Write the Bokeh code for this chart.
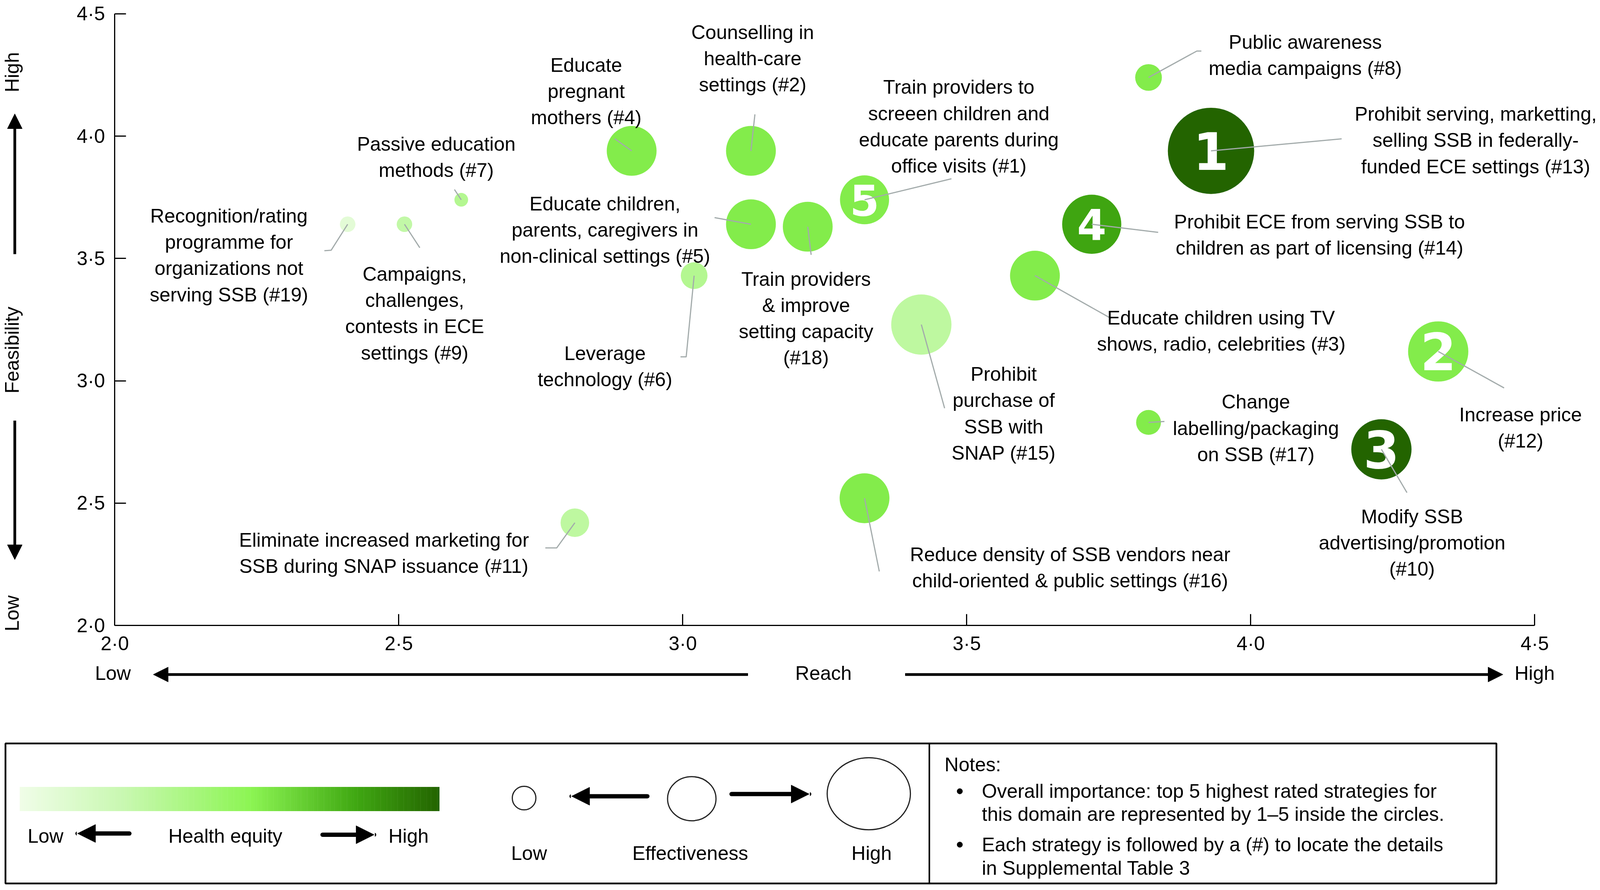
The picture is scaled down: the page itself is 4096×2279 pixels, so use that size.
import math
from bokeh.plotting import figure
from bokeh.models import (Range1d, Arrow, NormalHead, CustomJSTickFormatter,
                          FixedTicker, ColumnDataSource, LinearAxis)
from bokeh.core.properties import value
from bokeh.embed import file_html
from bokeh.resources import INLINE

# ---------------- data ----------------
strategy_ids = [19, 9, 7, 4, 2, 5, 18, 1, 6, 15, 16, 11, 8, 13, 14, 3, 12, 17, 10]
reach = [2.41, 2.51, 2.61, 2.91, 3.12, 3.12, 3.22, 3.32, 3.02, 3.42, 3.32, 2.81,
         3.82, 3.93, 3.72, 3.62, 4.33, 3.82, 4.23]
feasibility = [3.64, 3.64, 3.74, 3.94, 3.94, 3.64, 3.63, 3.74, 3.43, 3.23, 2.52, 2.42,
               4.24, 3.94, 3.64, 3.43, 3.12, 2.83, 2.72]
effectiveness = [2.50, 2.50, 2.45, 3.42, 3.42, 3.42, 3.42, 3.40, 2.80, 3.70, 3.42, 2.85,
                 2.80, 4.40, 3.67, 3.42, 3.70, 2.75, 3.70]
health_equity = [2.16, 2.56, 2.70, 3.16, 3.16, 3.16, 3.16, 3.16, 2.70, 2.60, 3.16, 2.60,
                 3.16, 4.00, 3.62, 3.16, 3.16, 3.16, 4.00]
importance_rank = [0, 0, 0, 0, 0, 0, 0, 5, 0, 0, 0, 0, 0, 1, 4, 0, 2, 0, 3]

label_texts = [
    "Recognition/rating\nprogramme for\norganizations not\nserving SSB (#19)",
    "Campaigns,\nchallenges,\ncontests in ECE\nsettings (#9)",
    "Passive education\nmethods (#7)",
    "Educate\npregnant\nmothers (#4)",
    "Counselling in\nhealth-care\nsettings (#2)",
    "Educate children,\nparents, caregivers in\nnon-clinical settings (#5)",
    "Train providers\n& improve\nsetting capacity\n(#18)",
    "Train providers to\nscreeen children and\neducate parents during\noffice visits (#1)",
    "Leverage\ntechnology (#6)",
    "Prohibit\npurchase of\nSSB with\nSNAP (#15)",
    "Reduce density of SSB vendors near\nchild-oriented & public settings (#16)",
    "Eliminate increased marketing for\nSSB during SNAP issuance (#11)",
    "Public awareness\nmedia campaigns (#8)",
    "Prohibit serving, marketting,\nselling SSB in federally-\nfunded ECE settings (#13)",
    "Prohibit ECE from serving SSB to\nchildren as part of licensing (#14)",
    "Educate children using TV\nshows, radio, celebrities (#3)",
    "Increase price\n(#12)",
    "Change\nlabelling/packaging\non SSB (#17)",
    "Modify SSB\nadvertising/promotion\n(#10)",
]
label_x = [2.201, 2.528, 2.566, 2.830, 3.123, 2.863, 3.217, 3.486, 2.863, 3.565, 3.682, 2.474,
           4.096, 4.396, 4.121, 3.948, 4.475, 4.009, 4.284]
label_y = [3.521, 3.283, 3.922, 4.191, 4.325, 3.624, 3.263, 4.047, 3.066, 2.874, 2.244, 2.303,
           4.339, 3.991, 3.605, 3.212, 2.816, 2.814, 2.346]

# leader-line end points (after the bubble centre)
leader_x = [[2.381, 2.369], [2.537], [2.598], [2.880], [3.127], [3.056], [3.226], [3.473],
            [3.006, 2.996], [3.461], [3.346], [2.778, 2.758], [3.905, 3.913], [4.160],
            [3.837], [3.754], [4.446], [3.848], [4.275]]
leader_y = [[3.534, 3.532], [3.544], [3.782], [3.990], [4.089], [3.667], [3.515], [3.826],
            [3.098, 3.098], [2.888], [2.221], [2.317, 2.317], [4.348, 4.348], [3.989],
            [3.607], [3.255], [2.971], [2.834], [2.543]]

axis_ticks = [2.0, 2.5, 3.0, 3.5, 4.0, 4.5]

notes_lines = ["Overall importance: top 5 highest rated strategies for",
               "this domain are represented by 1\u20135 inside the circles.",
               "Each strategy is followed by a (#) to locate the details",
               "in Supplemental Table 3"]

# ---------------- styling helpers ----------------
S = 0.795
FONT = "Liberation Sans"
FS = "50px"
W, H = 4094, 2277

equity_stops = [(0.0, "#f0fde8"), (0.25, "#c8f8b0"), (0.55, "#8cf553"),
                (0.8, "#40a812"), (1.0, "#236400")]


def hex2rgb(h):
    return tuple(int(h[i:i + 2], 16) for i in (1, 3, 5))


def grad(t):
    t = max(0.0, min(1.0, t))
    for (t0, c0), (t1, c1) in zip(equity_stops[:-1], equity_stops[1:]):
        if t <= t1:
            f = (t - t0) / (t1 - t0)
            a, b = hex2rgb(c0), hex2rgb(c1)
            return "#%02x%02x%02x" % tuple(round(a[i] + f * (b[i] - a[i])) for i in range(3))
    return equity_stops[-1][1]


def equity_color(eq):
    return grad((eq - 2.0) / 2.0)


def bubble_diameter(eff):
    return 2 * S * (25 + 60 * (eff - 2.5))


# layout positions given in reference pixels, converted to the plot's data space
PX_PER_X, PX_PER_Y = 1829.0, 788.0


def dx(full):
    return 2.0 + (full - 369) / PX_PER_X


def dy(full):
    return 4.5 - (full - 44) / PX_PER_Y


# ---------------- figure (frame = whole canvas) ----------------
p = figure(width=W, height=H, x_range=Range1d(dx(0), dx(W / S)),
           y_range=Range1d(dy(H / S), dy(0)), output_backend="svg",
           toolbar_location=None, x_axis_type=None, y_axis_type=None, min_border=0)
p.outline_line_color = None
p.background_fill_color = "white"
p.border_fill_color = "white"

fmt = CustomJSTickFormatter(code="return tick.toFixed(1).replace('.', '\u00b7');")
xaxis = LinearAxis(fixed_location=2.0)
yaxis = LinearAxis(fixed_location=2.0)
for axis in (xaxis, yaxis):
    axis.ticker = FixedTicker(ticks=axis_ticks)
    axis.bounds = (2.0, 4.5)
    axis.formatter = fmt
    axis.axis_line_width = 3
    axis.axis_line_color = "black"
    axis.major_tick_line_width = 3
    axis.major_tick_line_color = "black"
    axis.major_tick_in = 29
    axis.major_tick_out = 0
    axis.minor_tick_in = 0
    axis.minor_tick_out = 0
    axis.minor_tick_line_color = None
    axis.major_label_text_font = FONT
    axis.major_label_text_font_size = FS
    axis.major_label_text_color = "black"
xaxis.major_label_standoff = 18
yaxis.major_label_standoff = 25
p.add_layout(xaxis, "below")
p.add_layout(yaxis, "left")

src = ColumnDataSource(dict(
    x=reach, y=feasibility,
    size=[bubble_diameter(e) for e in effectiveness],
    color=[equity_color(q) for q in health_equity],
))
p.scatter(x="x", y="y", size="size", marker="circle", fill_color="color",
          line_color=None, source=src)

# importance numbers
nx, ny, nt, nfs = [], [], [], []
for xv, yv, r in zip(reach, feasibility, importance_rank):
    if r:
        nx.append(xv)
        ny.append(yv)
        nt.append(str(r))
        nfs.append("132px" if r <= 3 else "108px")
p.text(x=nx, y=ny, text=nt, text_font_size=nfs, text_font=value("DejaVu Sans"),
       text_font_style="bold", text_color="white", text_align="center",
       text_baseline="middle")

# leader lines
lxs = [[xv] + ex for xv, ex in zip(reach, leader_x)]
lys = [[yv] + ey for yv, ey in zip(feasibility, leader_y)]
p.multi_line(xs=lxs, ys=lys, line_color="#a3abab", line_width=3)

# labels
p.text(x=label_x, y=label_y, text=label_texts, text_font=value(FONT), text_font_size=FS,
       text_color="black", text_align="center", text_baseline="middle",
       text_line_height=1.2, y_offset=5)


# ---------------- decorations ----------------
def add_text(xf, yf, txt, angle=0.0, align="center"):
    p.text(x=[dx(xf)], y=[dy(yf)], text=[txt], angle=angle, text_font=value(FONT),
           text_font_size=FS, text_color="black", text_align=align,
           text_baseline="middle")


def add_arrow(x0, y0, x1, y1, lw=7, head=38, cap="butt"):
    p.add_layout(Arrow(x_start=dx(x0), y_start=dy(y0), x_end=dx(x1), y_end=dy(y1),
                       line_width=lw, line_color="black", line_cap=cap,
                       end=NormalHead(size=head, fill_color="black", line_color="black",
                                      line_width=1)))


add_text(38, 232, "High", math.pi / 2)
add_text(38, 1127, "Feasibility", math.pi / 2)
add_text(38, 1975, "Low", math.pi / 2)
add_arrow(47, 818, 47, 366)
add_arrow(47, 1354, 47, 1802)

add_text(363, 2168, "Low")
add_text(2651, 2168, "Reach")
add_text(4941, 2168, "High")
add_arrow(2408, 2172, 493, 2172)
add_arrow(2914, 2172, 4839, 2172)

# legend box
BX0, BX1, BY0, BY1, DIV = 17, 4818, 2394, 2845, 2992
p.quad(left=[dx(BX0)], right=[dx(BX1)], top=[dy(BY0)], bottom=[dy(BY1)],
       fill_color=None, line_color="black", line_width=4.5)
p.segment(x0=[dx(DIV)], y0=[dy(BY0)], x1=[dx(DIV)], y1=[dy(BY1)],
          line_color="black", line_width=4)

# gradient bar (health equity)
N = 200
g0, g1, gy0, gy1 = 63, 1414, 2534, 2612
edges = [g0 + (g1 - g0) * i / N for i in range(N + 1)]
p.quad(left=[dx(v) for v in edges[:-1]], right=[dx(v + 0.6) for v in edges[1:]],
       top=[dy(gy0)] * N, bottom=[dy(gy1)] * N,
       fill_color=[grad((i + 0.5) / N) for i in range(N)], line_color=None)

add_text(146, 2692, "Low")
add_text(725, 2692, "Health equity")
add_text(1315, 2692, "High")
add_arrow(416, 2684, 249, 2684, lw=11, head=46, cap="round")
add_arrow(1038, 2688, 1204, 2688, lw=11, head=46, cap="round")

# effectiveness circles
circ_cx = [1687, 2227, 2797]
circ_cy = [2570, 2572, 2556]
circ_rx = [38, 78, 134]
circ_ry = [38, 71, 116]
p.ellipse(x=[dx(v) for v in circ_cx], y=[dy(v) for v in circ_cy],
          width=[2 * r / PX_PER_X for r in circ_rx],
          height=[2 * r / PX_PER_Y for r in circ_ry],
          fill_color=None, line_color="#222222", line_width=3)
add_arrow(2084, 2564, 1840, 2564, lw=11, head=46, cap="round")
add_arrow(2355, 2557, 2605, 2557, lw=11, head=46, cap="round")
add_text(1703, 2748, "Low")
add_text(2222, 2748, "Effectiveness")
add_text(2806, 2748, "High")

# notes
add_text(3041, 2462, "Notes:", align="left")
for txt, yf in zip(notes_lines, [2548, 2622, 2720, 2796]):
    add_text(3161, yf, txt, align="left")
p.scatter(x=[dx(3090), dx(3090)], y=[dy(2548), dy(2720)], marker="circle", size=14,
          color="black")

open("out.html", "w").write(file_html(p, INLINE))
